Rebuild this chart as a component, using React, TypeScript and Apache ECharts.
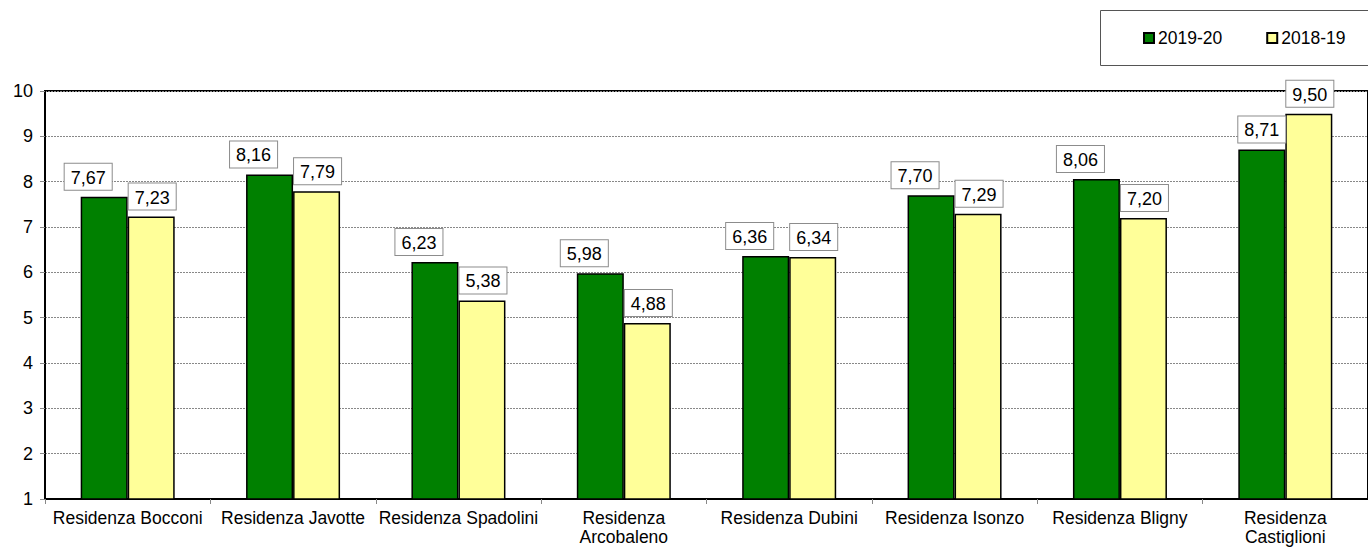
import React, { useEffect, useRef } from "react";
import * as echarts from "echarts";

const categories = [
  "Residenza Bocconi",
  "Residenza Javotte",
  "Residenza Spadolini",
  "Residenza\nArcobaleno",
  "Residenza Dubini",
  "Residenza Isonzo",
  "Residenza Bligny",
  "Residenza\nCastiglioni",
];
const series2019 = [7.67, 8.16, 6.23, 5.98, 6.36, 7.7, 8.06, 8.71];
const series2018 = [7.23, 7.79, 5.38, 4.88, 6.34, 7.29, 7.2, 9.5];
const seriesNames = ["2019-20", "2018-19"];
const yMin = 1;
const yMax = 10;

const FONT = "Liberation Sans, Arial, sans-serif";
const fmt = (v: number) => v.toFixed(2).replace(".", ",");

export default function App() {
  const ref = useRef<HTMLDivElement>(null);
  useEffect(() => {
    if (!ref.current) return;
    const chart = echarts.init(ref.current, undefined, { renderer: "svg" });
    const labelBase = {
      show: true,
      position: "top",
      distance: 7,
      formatter: (p: any) => fmt(p.value),
      color: "#000",
      fontSize: 18,
      lineHeight: 20,
      fontFamily: FONT,
      backgroundColor: "#fff",
      borderColor: "#8c8c8c",
      borderWidth: 1,
      padding: [4, 6, 2, 6],
    };
    chart.setOption({
      animation: false,
      textStyle: { fontFamily: FONT },
      graphic: [
        {
          type: "rect",
          shape: { x: 1100.5, y: 10.5, width: 300, height: 55 },
          style: { fill: "#fff", stroke: "#555", lineWidth: 1 },
          z: -1,
        },
      ],
      legend: {
        left: 1143,
        top: 29,
        padding: 0,
        itemWidth: 10,
        itemHeight: 10,
        itemGap: 44,
        icon: "rect",
        textStyle: { fontSize: 17.5, color: "#000", fontFamily: FONT, padding: [0, 0, 0, -1] },
        data: seriesNames,
      },
      grid: {
        left: 45,
        right: -1,
        top: 91,
        bottom: 48,
        show: true,
        borderColor: "#000",
        borderWidth: 2,
        containLabel: false,
      },
      xAxis: {
        type: "category",
        data: categories,
        axisLine: { show: true, lineStyle: { color: "#000", width: 2 } },
        axisTick: { show: true, length: 5, lineStyle: { color: "#888" } },
        axisLabel: {
          color: "#000",
          fontSize: 17.5,
          fontFamily: FONT,
          margin: 9,
          lineHeight: 19,
          interval: 0,
        },
      },
      yAxis: {
        type: "value",
        min: yMin,
        max: yMax,
        interval: 1,
        axisLine: { show: true, lineStyle: { color: "#000", width: 2 } },
        axisTick: { show: true, length: 5, lineStyle: { color: "#888" } },
        axisLabel: { color: "#000", fontSize: 18, fontFamily: FONT, margin: 12 },
        splitLine: { show: true, lineStyle: { color: "#888", type: [2, 1], width: 1 } },
      },
      series: [
        {
          name: seriesNames[0],
          type: "bar",
          barWidth: 47,
          barGap: "0%",
          itemStyle: { color: "#008000", borderColor: "#000", borderWidth: 1.5 },
          label: labelBase,
          data: series2019.map((v, i) => ({
            value: v,
            label: { offset: [i === series2019.length - 1 ? 0 : -16, 0] },
          })),
        },
        {
          name: seriesNames[1],
          type: "bar",
          barWidth: 47,
          barGap: "0%",
          itemStyle: { color: "#ffff99", borderColor: "#000", borderWidth: 1.5 },
          label: { ...labelBase, offset: [1, 0] },
          data: series2018,
        },
      ],
    });
    return () => chart.dispose();
  }, []);
  return (
    <div
      ref={ref}
      style={{ position: "absolute", left: 0, top: 0, width: 1368, height: 547, background: "#fff" }}
    />
  );
}
